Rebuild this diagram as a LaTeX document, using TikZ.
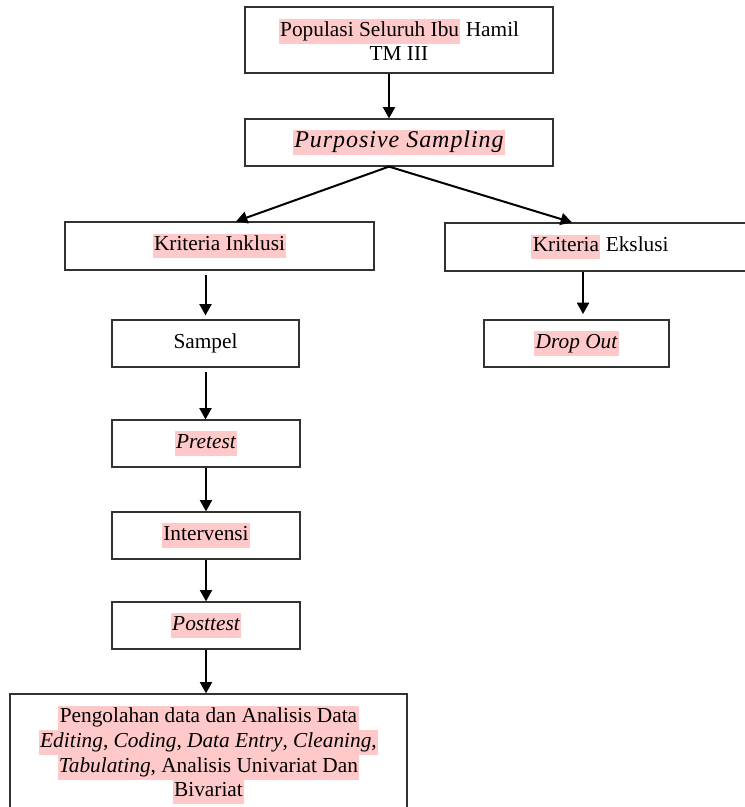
\documentclass[tikz,border=0pt]{standalone}
\usepackage{fontspec}
\setmainfont{Liberation Serif}
\usetikzlibrary{arrows.meta,calc}
\definecolor{hlpink}{RGB}{255,201,201}
\definecolor{boxline}{RGB}{50,50,50}
\newcommand{\hlt}[1]{{\setlength{\fboxsep}{0pt}\colorbox{hlpink}{\strut\kern1pt #1\kern1pt}}}
\begin{document}
\begin{tikzpicture}[x=0.75pt,y=-0.75pt,
  box/.style 2 args={draw=boxline, line width=0.9pt, inner sep=0pt, align=center,
    font=\fontsize{16}{18.5}\selectfont, minimum width=#1*0.75pt, minimum height=#2*0.75pt},
  arr/.style={-{Triangle[length=8.5pt,width=9pt]}, line width=1.5pt}]
\useasboundingbox (0,0) rectangle (745,807);

\node[box={308}{66}] (top) at (399,40) {\hlt{Populasi Seluruh Ibu} Hamil\\TM III};
\node[box={308}{47}] (ps) at (399,142.5) {\hlt{\fontsize{18}{20}\selectfont\addfontfeature{LetterSpace=4}\itshape Purposive Sampling}};
\node[box={309}{48}] (inc) at (219.5,246) {\hlt{Kriteria Inklusi}};
\node[box={310}{48}] (exc) at (600,247) {\hlt{Kriteria} Ekslusi};
\node[box={187}{47}] (sam) at (205.5,343.5) {Sampel};
\node[box={185}{47}] (drop) at (576.5,343.5) {\hlt{\itshape Drop Out}};
\node[box={188}{47}] (pre) at (206,443.5) {\hlt{\itshape Pretest}};
\node[box={188}{47}] (int) at (206,535.5) {\hlt{Intervensi}};
\node[box={188}{47}] (post) at (206,625.5) {\hlt{\itshape Posttest}};
\node[box={397}{122}] (fin) at (208.5,755) {\hlt{Pengolahan data dan Analisis Data}\\
  \hlt{\textit{Editing}, \textit{Coding}, \textit{Data Entry}, \textit{Cleaning},}\\
  \hlt{\textit{Tabulating}, Analisis Univariat Dan}\\
  \hlt{Bivariat}};

\draw[arr] ([xshift=-7.5pt]top.south) -- ([xshift=-7.5pt]ps.north);
\draw[arr] ([xshift=-7.5pt]ps.south) -- ([xshift=12.4pt]inc.north);
\draw[arr] ([xshift=-7.5pt]ps.south) -- ([xshift=-21pt]exc.north);
\draw[arr] ([yshift=-3pt]inc.south -| sam.north) -- ([yshift=3pt]sam.north);
\draw[arr] ([xshift=4.9pt]exc.south -| drop.north) -- ([xshift=4.9pt,yshift=4pt]drop.north);
\draw[arr] ([yshift=-3.5pt]sam.south) -- (sam.south |- pre.north);
\draw[arr] (pre.south) -- (int.north);
\draw[arr] (int.south) -- (post.north);
\draw[arr] (post.south) -- (post.south |- fin.north);
\end{tikzpicture}
\end{document}
